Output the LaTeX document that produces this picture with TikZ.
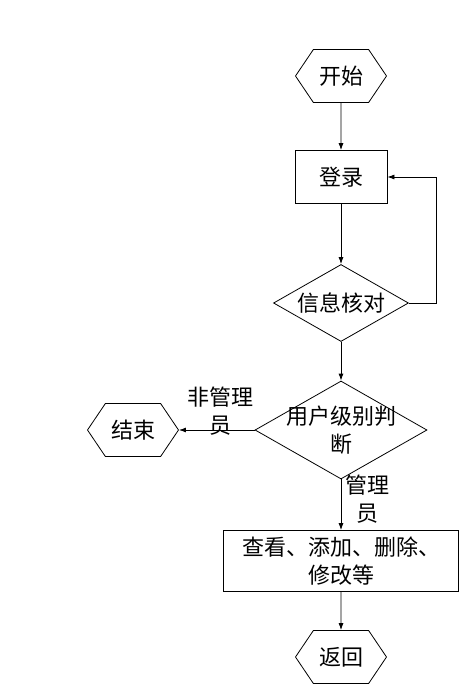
\documentclass[tikz,border=0pt]{standalone}
\usepackage{fontspec}
\newfontfamily\cjk{Noto Sans CJK SC}
\usetikzlibrary{shapes.geometric,shapes.symbols,arrows.meta}

\tikzset{
  hexa/.style={draw, signal, signal to=west and east, signal pointer angle=112,
    minimum width=91pt, minimum height=53pt, inner sep=0pt},
  stepbox/.style={draw, rectangle, inner sep=0pt},
  test/.style={draw, diamond, inner sep=0pt},
  txt/.style={font=\cjk\fontsize{22}{28}\selectfont, align=center},
  arr/.style={-{Latex[length=7pt,width=5pt]}}
}

\begin{document}
\begin{tikzpicture}[x=1pt,y=-1pt,line width=0.8pt]
\useasboundingbox (0,0) rectangle (463,686);
% main column
\node[hexa,txt] (start) at (341,76) {开始};
\node[stepbox,txt,minimum width=92pt,minimum height=53pt] (login) at (341,177) {登录};
\node[test,minimum width=135pt,minimum height=77pt,label={[txt]center:信息核对}] (check) at (341,303) {};
\node[test,minimum width=172pt,minimum height=98pt,label={[txt]center:用户级别判\\断}] (role) at (341,430) {};
\node[stepbox,txt,minimum width=235pt,minimum height=61pt] (ops) at (341,561) {查看、添加、删除、\\修改等};
\node[hexa,txt] (back) at (341,657) {返回};
% side exit
\node[hexa,txt] (end) at (133,430) {结束};
\node[txt] (nonadmin) at (220,411) {非管理\\员};
\node[txt] (admin) at (367,499) {管理\\员};
\coordinate (loop) at (436,177);

\draw[arr] (start) -- (login);
\draw[arr] (login) -- (check);
\draw[arr] (check.east) -| (loop) -- (login.east);
\draw[arr] (check) -- (role);
\draw[arr] (role.west) -- (end.east);
\draw[arr] (role) -- (ops);
\draw[arr] (ops) -- (back);
\end{tikzpicture}
\end{document}
